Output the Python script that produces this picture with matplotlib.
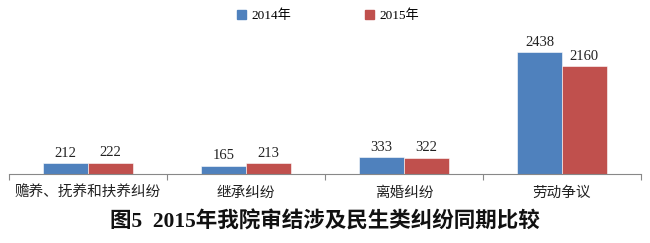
import matplotlib.pyplot as plt
import numpy as np
from matplotlib.patches import Patch

plt.rcParams['font.family'] = ['Liberation Serif', 'Noto Sans CJK SC']

categories = ['赡养、抚养和扶养纠纷', '继承纠纷', '离婚纠纷', '劳动争议']
series_names = ['2014年', '2015年']
values_2014 = [212, 165, 333, 2438]
values_2015 = [222, 213, 322, 2160]
colors = ['#4F81BD', '#C0504D']

fig = plt.figure(figsize=(6.5, 2.43), dpi=100)
ax = fig.add_axes([9 / 650, 69 / 243, 632 / 650, 144 / 243])

x = np.arange(len(categories))
w = 0.285
offset = 0.142
for vals, c, dx in [(values_2014, colors[0], -offset), (values_2015, colors[1], offset)]:
    bars = ax.bar(x + dx, vals, w, color=c, edgecolor='white', linewidth=0.4, zorder=2)
    for b, v in zip(bars, vals):
        ax.text(b.get_x() + b.get_width() / 2, v + 70, str(v), ha='center', va='bottom',
                fontsize=10.5, color='#222222')

ax.set_xlim(-0.5, 3.5)
ax.set_ylim(0, 2880)
for s in ['top', 'right', 'left']:
    ax.spines[s].set_visible(False)
ax.spines['bottom'].set_color('#888888')
ax.spines['bottom'].set_linewidth(0.8)
ax.set_yticks([])
ax.set_xticks(np.arange(-0.5, 4.0, 1.0))
ax.set_xticklabels([])
ax.tick_params(axis='x', length=4, color='#888888', width=0.8)
for i, cat in enumerate(categories):
    ax.text(i, -0.08, cat, transform=ax.get_xaxis_transform(), ha='center', va='top',
            fontsize=10.5, color='#222222', family=['Noto Sans CJK SC'])

handles = [Patch(color=c) for c in colors]
fig.legend(handles, series_names, loc='center', bbox_to_anchor=(0.505, 0.935), ncol=2,
           frameon=False, fontsize=9.5, handlelength=0.7, handleheight=0.7,
           handletextpad=0.4, columnspacing=5.6)

fig.text(0.5, 0.088, '图5  2015年我院审结涉及民生类纠纷同期比较', ha='center', va='center',
         fontsize=15.5, fontweight='bold', color='#111111')

fig.savefig('out.png', dpi=100, facecolor='white')
